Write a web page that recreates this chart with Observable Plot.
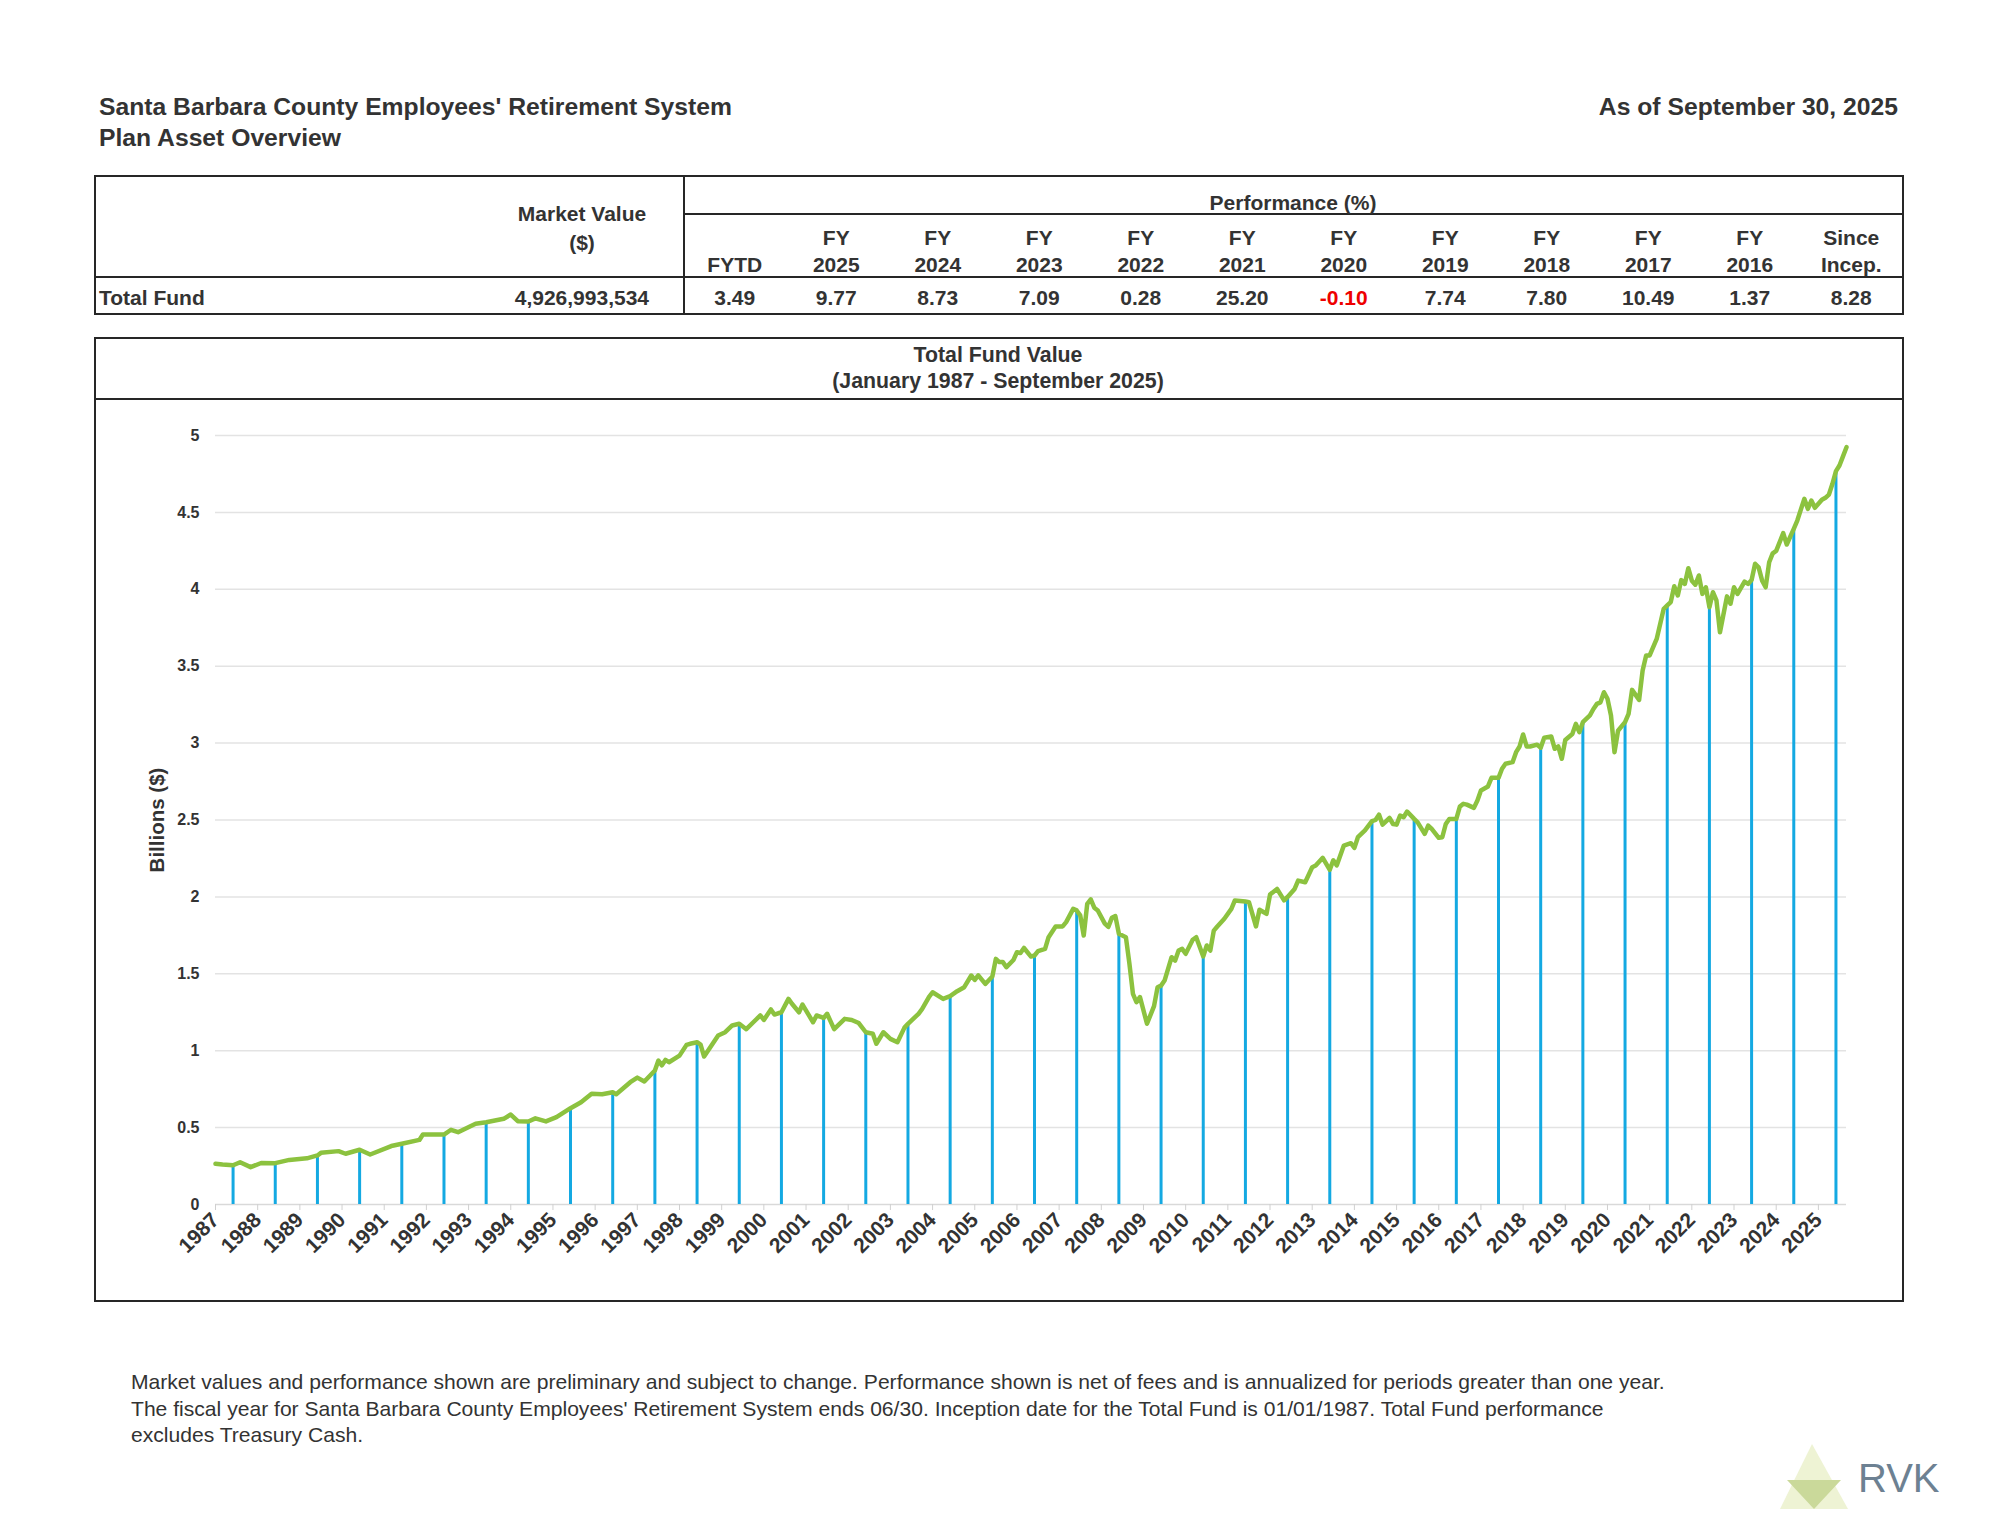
<!DOCTYPE html>
<html><head><meta charset="utf-8">
<script src="https://cdn.jsdelivr.net/npm/d3@7"></script>
<script src="https://cdn.jsdelivr.net/npm/@observablehq/plot@0.6"></script>
<style>
body{margin:0;background:#fff}
#page{position:relative;width:2000px;height:1536px;overflow:hidden;font-family:"Liberation Sans",Arial,Helvetica,sans-serif;color:#333}
.t{position:absolute;line-height:1;white-space:nowrap}
.box{position:absolute;box-sizing:border-box;border:2px solid #262626}
.hl{position:absolute;background:#262626}
#plot svg g[aria-label="x-axis tick label"] text,#plot svg g[aria-label="y-axis tick label"] text{font-weight:bold}
</style></head><body><div id="page"></div>
<script>
// ---------- DATA ----------
const reportTitle = "Santa Barbara County Employees' Retirement System";
const reportSubtitle = "Plan Asset Overview";
const asOf = "As of September 30, 2025";
const fundName = "Total Fund";
const marketValue = 4926993534;
const perfHeadTop = ["", "FY", "FY", "FY", "FY", "FY", "FY", "FY", "FY", "FY", "FY", "Since"];
const perfHeadBottom = ["FYTD", "2025", "2024", "2023", "2022", "2021", "2020", "2019", "2018", "2017", "2016", "Incep."];
const perfValues = [3.49, 9.77, 8.73, 7.09, 0.28, 25.20, -0.10, 7.74, 7.80, 10.49, 1.37, 8.28];
const chartTitle = "Total Fund Value";
const chartSubtitle = "(January 1987 - September 2025)";
const yLabel = "Billions ($)";
const yTicks = [0, 0.5, 1, 1.5, 2, 2.5, 3, 3.5, 4, 4.5, 5];
const xTickYears = d3.range(1987, 2026);
const footnotes = [
  "Market values and performance shown are preliminary and subject to change. Performance shown is net of fees and is annualized for periods greater than one year.",
  "The fiscal year for Santa Barbara County Employees' Retirement System ends 06/30. Inception date for the Total Fund is 01/01/1987. Total Fund performance",
  "excludes Treasury Cash."
];
// month-end market value, billions ($)
const months = [
"1987-01","1987-03","1987-06","1987-08","1987-11","1988-02","1988-06","1988-10","1989-03","1989-06","1989-07","1989-12",
"1990-02","1990-06","1990-09","1991-03","1991-06","1991-11","1991-12","1992-06","1992-08","1992-10","1993-03","1993-06",
"1993-11","1994-01","1994-03","1994-06","1994-08","1994-11","1995-02","1995-06","1995-09","1995-12","1996-03","1996-06",
"1996-07","1996-11","1997-01","1997-03","1997-06","1997-07","1997-08","1997-09","1997-10","1998-01","1998-03","1998-04",
"1998-06","1998-07","1998-08","1998-12","1999-02","1999-04","1999-06","1999-08","1999-10","1999-12","2000-01","2000-03",
"2000-04","2000-06","2000-08","2000-09","2000-11","2000-12","2001-03","2001-04","2001-06","2001-07","2001-09","2001-12",
"2002-02","2002-04","2002-06","2002-08","2002-09","2002-11","2003-01","2003-03","2003-05","2003-06","2003-09","2003-10",
"2003-12","2004-01","2004-04","2004-06","2004-08","2004-10","2004-12","2005-01","2005-02","2005-04","2005-06","2005-07",
"2005-08","2005-09","2005-10","2005-12","2006-01","2006-02","2006-03","2006-05","2006-06","2006-07","2006-09","2006-10",
"2006-12","2007-02","2007-03","2007-05","2007-06","2007-07","2007-08","2007-09","2007-10","2007-11","2007-12","2008-02",
"2008-03","2008-04","2008-05","2008-06","2008-08","2008-09","2008-10","2008-11","2008-12","2009-02","2009-04","2009-05",
"2009-06","2009-07","2009-09","2009-10","2009-11","2009-12","2010-01","2010-03","2010-04","2010-06","2010-07","2010-08",
"2010-09","2010-10","2010-12","2011-02","2011-03","2011-06","2011-07","2011-09","2011-10","2011-12","2012-01","2012-03",
"2012-05","2012-06","2012-08","2012-09","2012-11","2013-01","2013-02","2013-04","2013-06","2013-07","2013-08","2013-10",
"2013-12","2014-01","2014-02","2014-04","2014-06","2014-07","2014-08","2014-09","2014-11","2014-12","2015-01","2015-02",
"2015-03","2015-04","2015-06","2015-07","2015-09","2015-10","2015-11","2016-01","2016-02","2016-03","2016-04","2016-06",
"2016-07","2016-08","2016-09","2016-11","2016-12","2017-01","2017-03","2017-04","2017-06","2017-07","2017-08","2017-10",
"2017-11","2017-12","2018-01","2018-02","2018-03","2018-05","2018-06","2018-07","2018-09","2018-10","2018-11","2018-12",
"2019-01","2019-03","2019-04","2019-05","2019-06","2019-08","2019-09","2019-10","2019-11","2019-12","2020-01","2020-02",
"2020-03","2020-04","2020-06","2020-07","2020-08","2020-10","2020-11","2020-12","2021-01","2021-03","2021-05","2021-06",
"2021-07","2021-08","2021-09","2021-10","2021-11","2021-12","2022-01","2022-02","2022-03","2022-04","2022-05","2022-06",
"2022-07","2022-08","2022-09","2022-11","2022-12","2023-01","2023-02","2023-04","2023-05","2023-06","2023-07","2023-08",
"2023-09","2023-10","2023-11","2023-12","2024-01","2024-03","2024-04","2024-06","2024-07","2024-09","2024-10","2024-11",
"2024-12","2025-02","2025-03","2025-04","2025-05","2025-06","2025-07","2025-08","2025-09"];
const fundValues = [
0.265,0.26,0.255,0.275,0.243,0.27,0.269,0.29,0.30,0.319,0.336,0.347,
0.33,0.356,0.325,0.38,0.395,0.42,0.455,0.455,0.486,0.47,0.525,0.535,
0.557,0.585,0.542,0.54,0.56,0.54,0.568,0.626,0.665,0.72,0.717,0.73,
0.717,0.795,0.825,0.80,0.871,0.936,0.905,0.94,0.925,0.968,1.038,1.045,
1.055,1.04,0.962,1.099,1.12,1.164,1.175,1.14,1.185,1.229,1.20,1.268,
1.235,1.25,1.337,1.305,1.25,1.30,1.185,1.229,1.213,1.24,1.14,1.207,
1.20,1.18,1.12,1.11,1.045,1.12,1.077,1.055,1.15,1.175,1.24,1.27,
1.35,1.38,1.337,1.355,1.387,1.413,1.489,1.46,1.49,1.434,1.482,1.597,
1.576,1.576,1.543,1.59,1.64,1.635,1.668,1.612,1.619,1.647,1.662,1.738,
1.808,1.808,1.836,1.922,1.912,1.88,1.749,1.955,1.984,1.93,1.912,1.826,
1.805,1.864,1.875,1.76,1.738,1.565,1.37,1.316,1.349,1.175,1.29,1.412,
1.423,1.456,1.608,1.586,1.651,1.662,1.63,1.721,1.738,1.613,1.684,1.651,
1.781,1.808,1.858,1.922,1.977,1.97,1.966,1.808,1.916,1.89,2.015,2.052,
1.977,2.0,2.052,2.106,2.095,2.193,2.204,2.254,2.176,2.238,2.205,2.334,
2.349,2.319,2.388,2.432,2.492,2.5,2.535,2.47,2.513,2.474,2.47,2.529,
2.518,2.555,2.507,2.485,2.41,2.464,2.442,2.384,2.388,2.474,2.507,2.507,
2.587,2.605,2.6,2.579,2.627,2.692,2.718,2.774,2.774,2.833,2.866,2.876,
2.941,2.978,3.056,2.978,2.978,2.99,2.97,3.035,3.043,2.963,2.978,2.898,
3.02,3.059,3.125,3.071,3.136,3.18,3.222,3.255,3.265,3.331,3.288,3.18,
2.941,3.08,3.136,3.19,3.346,3.281,3.472,3.57,3.57,3.677,3.873,3.895,
3.917,4.02,3.96,4.06,4.035,4.137,4.056,4.03,4.09,3.97,4.013,3.884,
3.981,3.928,3.721,3.954,3.906,4.013,3.97,4.05,4.035,4.06,4.166,4.143,
4.056,4.013,4.176,4.234,4.25,4.365,4.291,4.393,4.447,4.588,4.523,4.577,
4.53,4.582,4.595,4.616,4.686,4.768,4.805,4.864,4.924];

// ---------- PAGE ----------
const page = document.getElementById("page");
function txt(s, x, y, o = {}) {
  const d = document.createElement("div");
  d.className = "t";
  d.textContent = s;
  d.style.left = x + "px";
  d.style.top = y + "px";
  d.style.fontSize = (o.size || 20) + "px";
  d.style.fontWeight = o.weight || "bold";
  if (o.color) d.style.color = o.color;
  if (o.family) d.style.fontFamily = o.family;
  const tx = o.anchor === "middle" ? "-50%" : o.anchor === "end" ? "-100%" : "0";
  d.style.transform = `translate(${tx},-50%)`;
  page.appendChild(d);
  return d;
}
function el(cls, x, y, w, h) {
  const d = document.createElement("div");
  d.className = cls;
  Object.assign(d.style, {left: x + "px", top: y + "px", width: w + "px", height: h + "px"});
  page.appendChild(d);
  return d;
}

txt(reportTitle, 99, 107, {size: 24.7});
txt(reportSubtitle, 99, 138, {size: 24.7});
txt(asOf, 1898, 107, {size: 24.7, anchor: "end"});

// table
el("box", 94, 175, 1810, 140);
el("hl", 683, 175, 2, 140);
el("hl", 684, 213, 1220, 2);
el("hl", 94, 276, 1810, 2);
txt("Market Value", 582, 213, {size: 21, anchor: "middle"});
txt("($)", 582, 242, {size: 21, anchor: "middle"});
txt("Performance (%)", 1293, 202, {size: 21, anchor: "middle"});
txt(fundName, 99, 297, {size: 21});
txt(marketValue.toLocaleString("en-US"), 649, 297, {size: 21, anchor: "end"});
const colW = (1902 - 684) / perfValues.length;
perfValues.forEach((v, i) => {
  const cx = 684 + colW * (i + 0.5);
  if (perfHeadTop[i]) txt(perfHeadTop[i], cx, 237, {size: 21, anchor: "middle"});
  txt(perfHeadBottom[i], cx, 264, {size: 21, anchor: "middle"});
  txt(v.toFixed(2), cx, 297, {size: 21, anchor: "middle", color: v < 0 ? "#ee0000" : null});
});

// chart box
el("box", 94, 337, 1810, 965);
el("hl", 94, 398, 1810, 2);
txt(chartTitle, 998, 356, {size: 21.3, anchor: "middle"});
txt(chartSubtitle, 998, 382, {size: 21.3, anchor: "middle"});

// footer
footnotes.forEach((s, i) => txt(s, 131, 1382 + i * 26.5, {size: 21.1, weight: "normal"}));

// logo
const logo = document.createElement("div");
logo.style.cssText = "position:absolute;left:1775px;top:1440px;width:80px;height:75px";
logo.innerHTML = '<svg width="80" height="75" viewBox="0 0 80 75"><polygon points="5,69 37,4 73,69" fill="#eef3d4"/><polygon points="12,40 66,40 39,69" fill="#cad99a"/></svg>';
page.appendChild(logo);
txt("RVK", 1858, 1478, {size: 40, weight: "normal", color: "#6d8192", family: "'Liberation Sans Narrow','Liberation Sans',Arial,sans-serif"});

// ---------- PLOT ----------
const series = months.map((m, i) => ({t: +m.slice(0, 4) + (+m.slice(5, 7) - 1) / 12, v: fundValues[i]}));
const fyEnd = series.filter((d, i) => months[i].endsWith("-06"));

const chart = Plot.plot({
  width: 1804,
  height: 899,
  marginLeft: 119,
  marginRight: 54,
  marginTop: 34,
  marginBottom: 96,
  style: {fontFamily: "'Liberation Sans', Arial, sans-serif", color: "#333", background: "transparent", overflow: "visible"},
  x: {domain: [1987, 2025 + 8 / 12]},
  y: {domain: [0, 5]},
  marks: [
    Plot.gridY(yTicks.filter(d => d > 0), {stroke: "#e3e3e3", strokeOpacity: 1, strokeWidth: 1.5}),
    Plot.ruleY([0], {stroke: "#d9d9d9", strokeWidth: 1.5}),
    Plot.ruleX(fyEnd, {x: "t", y1: 0, y2: "v", stroke: "#14a9e2", strokeWidth: 3}),
    Plot.line(series, {x: "t", y: "v", stroke: "#8cc23f", strokeWidth: 4.5}),
    Plot.axisY({ticks: yTicks, tickSize: 0, tickPadding: 16, fontSize: 16, fontWeight: "bold", tickFormat: d => String(d), label: null}),
    Plot.axisX({ticks: xTickYears, tickFormat: d => String(d), tickRotate: -45, tickSize: 6, stroke: "#d0d0d0", tickPadding: 6, fontSize: 21, fontWeight: "bold", label: null}),
    Plot.text([yLabel], {text: d => d, frameAnchor: "left", textAnchor: "middle", rotate: -90, dx: -58, fontSize: 20.5, fontWeight: "bold", fill: "#333"})
  ]
});
const holder = document.createElement("div");
holder.id = "plot";
holder.style.cssText = "position:absolute;left:96px;top:401px";
holder.appendChild(chart);
page.appendChild(holder);
</script></body></html>
